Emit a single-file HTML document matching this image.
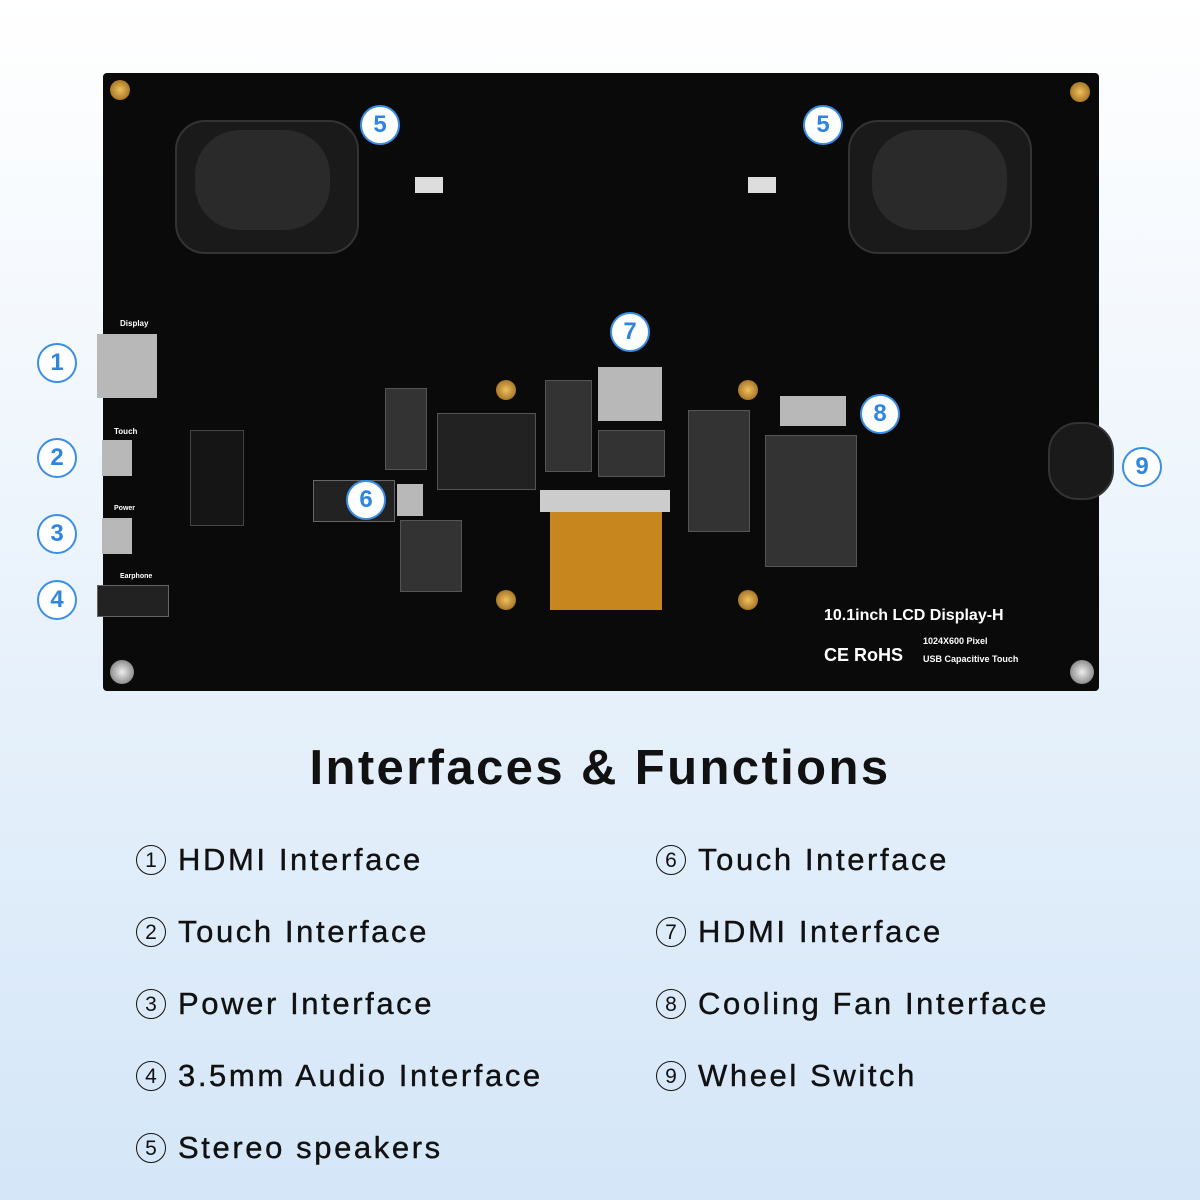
<!DOCTYPE html>
<html><head><meta charset="utf-8"><style>
body{margin:0;width:1200px;height:1200px;overflow:hidden;font-family:"Liberation Sans",sans-serif;background:linear-gradient(#ffffff 0%,#eef5fc 40%,#d4e6f8 100%);position:relative}
.a{position:absolute}
.c{position:absolute;width:36px;height:36px;border:2px solid #3a8ee6;border-radius:50%;background:#fff;color:#2f86e0;font:bold 24px "Liberation Sans",sans-serif;text-align:center;line-height:36px}
.li{position:absolute;font-size:31px;color:#111;letter-spacing:2.6px;-webkit-text-stroke:0.4px #111}
.li span{display:inline-block;width:30px;height:30px;border:1.5px solid #111;border-radius:50%;font-size:21px;text-align:center;line-height:30px;margin-right:12px;vertical-align:3px;box-sizing:border-box;letter-spacing:0;-webkit-text-stroke:0}
.chip{position:absolute;background:#222;border:1px solid #555}
.g{position:absolute;background:#b8b8b8}
.brass{position:absolute;width:20px;height:20px;border-radius:50%;background:radial-gradient(#f0c060,#8a5a10)}
.scr{position:absolute;width:24px;height:24px;border-radius:50%;background:radial-gradient(#eee,#666)}
</style></head><body>
<div class="a" style="left:103px;top:73px;width:996px;height:618px;background:#0a0a0a;border-radius:4px"></div>
<div class="a" style="left:175px;top:120px;width:180px;height:130px;background:#1a1a1a;border-radius:30px;border:2px solid #333"></div>
<div class="a" style="left:195px;top:130px;width:135px;height:100px;background:#2a2a2a;border-radius:45px"></div>
<div class="a" style="left:848px;top:120px;width:180px;height:130px;background:#1a1a1a;border-radius:30px;border:2px solid #333"></div>
<div class="a" style="left:872px;top:130px;width:135px;height:100px;background:#2a2a2a;border-radius:45px"></div>
<div class="a" style="left:415px;top:177px;width:28px;height:16px;background:#ddd"></div>
<div class="a" style="left:748px;top:177px;width:28px;height:16px;background:#ddd"></div>
<div class="g" style="left:97px;top:334px;width:60px;height:64px"></div>
<div class="g" style="left:102px;top:440px;width:30px;height:36px"></div>
<div class="g" style="left:102px;top:518px;width:30px;height:36px"></div>
<div class="a" style="left:97px;top:585px;width:70px;height:30px;background:#222;border:1px solid #666"></div>
<div class="a" style="left:190px;top:430px;width:52px;height:94px;background:#151515;border:1px solid #444"></div>
<div class="g" style="left:397px;top:484px;width:26px;height:32px"></div>
<div class="a" style="left:313px;top:480px;width:80px;height:40px;background:#222;border:1px solid #666"></div>
<div class="g" style="left:598px;top:367px;width:64px;height:54px"></div>
<div class="g" style="left:780px;top:396px;width:66px;height:30px"></div>
<div class="a" style="left:1048px;top:422px;width:62px;height:74px;background:#1a1a1a;border-radius:30px;border:2px solid #333"></div>
<div class="chip" style="left:437px;top:413px;width:97px;height:75px"></div>
<div class="chip" style="left:545px;top:380px;width:45px;height:90px;background:#333"></div>
<div class="chip" style="left:385px;top:388px;width:40px;height:80px;background:#333"></div>
<div class="chip" style="left:688px;top:410px;width:60px;height:120px;background:#333"></div>
<div class="chip" style="left:765px;top:435px;width:90px;height:130px;background:#333"></div>
<div class="chip" style="left:598px;top:430px;width:65px;height:45px;background:#333"></div>
<div class="chip" style="left:400px;top:520px;width:60px;height:70px;background:#333"></div>
<div class="a" style="left:550px;top:510px;width:112px;height:100px;background:#c8861e"></div>
<div class="a" style="left:540px;top:490px;width:130px;height:22px;background:#ccc"></div>
<div class="brass" style="left:496px;top:380px"></div><div class="brass" style="left:738px;top:380px"></div>
<div class="brass" style="left:496px;top:590px"></div><div class="brass" style="left:738px;top:590px"></div>
<div class="brass" style="left:110px;top:80px"></div><div class="brass" style="left:1070px;top:82px"></div>
<div class="scr" style="left:110px;top:660px"></div><div class="scr" style="left:1070px;top:660px"></div>
<div class="a" style="left:824px;top:607px;color:#fff;font:bold 16px 'Liberation Sans',sans-serif">10.1inch LCD Display-H</div>
<div class="a" style="left:923px;top:636px;color:#fff;font:bold 9px 'Liberation Sans',sans-serif">1024X600 Pixel</div>
<div class="a" style="left:923px;top:654px;color:#fff;font:bold 9px 'Liberation Sans',sans-serif">USB Capacitive Touch</div>
<div class="a" style="left:824px;top:645px;color:#fff;font:bold 18px 'Liberation Sans',sans-serif">CE RoHS</div>
<div class="a" style="left:120px;top:319px;color:#fff;font:bold 8px 'Liberation Sans',sans-serif">Display</div>
<div class="a" style="left:114px;top:427px;color:#fff;font:bold 8px 'Liberation Sans',sans-serif">Touch</div>
<div class="a" style="left:114px;top:505px;color:#fff;font:bold 7px 'Liberation Sans',sans-serif">Power</div>
<div class="a" style="left:120px;top:573px;color:#fff;font:bold 7px 'Liberation Sans',sans-serif">Earphone</div>
<div class="c" style="left:37px;top:343px">1</div>
<div class="c" style="left:37px;top:438px">2</div>
<div class="c" style="left:37px;top:514px">3</div>
<div class="c" style="left:37px;top:580px">4</div>
<div class="c" style="left:360px;top:105px">5</div>
<div class="c" style="left:803px;top:105px">5</div>
<div class="c" style="left:346px;top:480px">6</div>
<div class="c" style="left:610px;top:312px">7</div>
<div class="c" style="left:860px;top:394px">8</div>
<div class="c" style="left:1122px;top:447px">9</div>
<div class="a" style="left:0;width:1200px;top:740px;text-align:center;font:bold 49px 'Liberation Sans',sans-serif;color:#111;letter-spacing:2.4px">Interfaces &amp; Functions</div>
<div class="li" style="left:136px;top:842px"><span>1</span>HDMI Interface</div>
<div class="li" style="left:136px;top:914px"><span>2</span>Touch Interface</div>
<div class="li" style="left:136px;top:986px"><span>3</span>Power Interface</div>
<div class="li" style="left:136px;top:1058px"><span>4</span>3.5mm Audio Interface</div>
<div class="li" style="left:136px;top:1130px"><span>5</span>Stereo speakers</div>
<div class="li" style="left:656px;top:842px"><span>6</span>Touch Interface</div>
<div class="li" style="left:656px;top:914px"><span>7</span>HDMI Interface</div>
<div class="li" style="left:656px;top:986px"><span>8</span>Cooling Fan Interface</div>
<div class="li" style="left:656px;top:1058px"><span>9</span>Wheel Switch</div>
</body></html>
